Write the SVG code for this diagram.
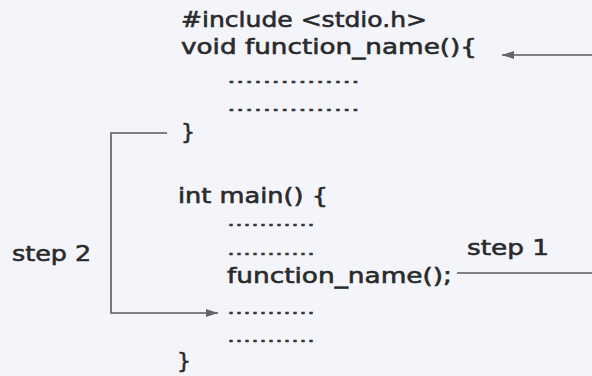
<svg xmlns="http://www.w3.org/2000/svg" width="592" height="376" viewBox="0 0 592 376">
  <style>
    .code { font-family: "DejaVu Sans", Verdana, sans-serif; font-size: 22px; fill: #2a2a2a; stroke: #2a2a2a; stroke-width: 0.6; }
    .dots { font-family: "DejaVu Sans", Verdana, sans-serif; font-size: 16px; fill: #333; stroke: #333; stroke-width: 0.5; }
    .conn { fill: none; stroke: #5a5a5a; stroke-width: 1.6; }
  </style>
  <defs>
    <marker id="arrow" viewBox="0 0 12 8" refX="12" refY="4" markerWidth="12" markerHeight="8" markerUnits="userSpaceOnUse" orient="auto">
      <path d="M0,0 L12,4 L0,8 Z" fill="#666"/>
    </marker>
  </defs>
  <rect width="592" height="376" fill="#f3f5fb"/>

  <g id="function-def">
    <text class="code" x="181" y="27" textLength="246" lengthAdjust="spacingAndGlyphs">#include &lt;stdio.h&gt;</text>
    <text class="code" x="181" y="54" textLength="296" lengthAdjust="spacingAndGlyphs">void function_name(){</text>
    <text class="dots" x="227" y="83" textLength="133" lengthAdjust="spacingAndGlyphs">...............</text>
    <text class="dots" x="227" y="111" textLength="133" lengthAdjust="spacingAndGlyphs">...............</text>
    <text class="code" x="181" y="139">}</text>
  </g>

  <g id="main-def">
    <text class="code" x="178" y="203" textLength="150" lengthAdjust="spacingAndGlyphs">int main() {</text>
    <text class="dots" x="227" y="226" textLength="88" lengthAdjust="spacingAndGlyphs">...........</text>
    <text class="dots" x="227" y="255" textLength="88" lengthAdjust="spacingAndGlyphs">...........</text>
    <text class="code" x="227" y="283" textLength="225" lengthAdjust="spacingAndGlyphs">function_name();</text>
    <text class="dots" x="227" y="314" textLength="88" lengthAdjust="spacingAndGlyphs">...........</text>
    <text class="dots" x="227" y="342" textLength="88" lengthAdjust="spacingAndGlyphs">...........</text>
    <text class="code" x="177" y="368">}</text>
  </g>

  <g id="step1-label">
    <text class="code" x="467" y="255" textLength="82" lengthAdjust="spacingAndGlyphs">step 1</text>
  </g>
  <g id="step2-label">
    <text class="code" x="12" y="261" textLength="79" lengthAdjust="spacingAndGlyphs">step 2</text>
  </g>

  <g id="connectors">
    <line class="conn" x1="457" y1="273" x2="592" y2="273"/>
    <line class="conn" x1="592" y1="55" x2="502" y2="55" marker-end="url(#arrow)"/>
    <polyline class="conn" points="167,133 111,133 111,313 218,313" marker-end="url(#arrow)"/>
  </g>
</svg>
